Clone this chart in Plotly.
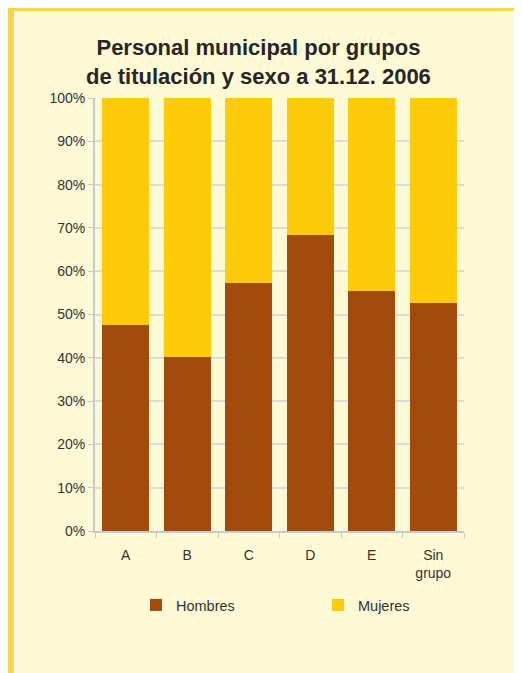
import plotly.graph_objects as go

categorias = ["A", "B", "C", "D", "E", "Sin<br>grupo"]
hombres = [47.5, 40.2, 57.2, 68.3, 55.4, 52.6]
mujeres = [52.5, 59.8, 42.8, 31.7, 44.6, 47.4]
y_ticks = [0, 10, 20, 30, 40, 50, 60, 70, 80, 90, 100]
y_ticktext = [f"{v}%" for v in y_ticks]

OFF = 8  # page body margin
W, H = 522 - OFF, 673 - OFF
# plot area in screen pixels
PL, PR, PT, PB = 95, 464, 98, 531
ML, MR, MT, MB = PL - OFF, W - (PR - OFF), PT - OFF, H - (PB - OFF)
PW, PH = PR - PL, PB - PT

def px(x):
    return (x - PL) / PW

def py(y):
    return (PB - y) / PH

fig = go.Figure()
fig.add_trace(go.Bar(name="Hombres", x=categorias, y=hombres, marker_color="#A14C0C",
                     marker_line_width=0, legend="legend"))
fig.add_trace(go.Bar(name="Mujeres", x=categorias, y=mujeres, marker_color="#FDCB0A",
                     marker_line_width=0, legend="legend2"))

XE, YE = OFF + W + 2, OFF + H + 2
shapes = [
    dict(type="rect", xref="paper", yref="paper", x0=px(6), x1=px(XE), y0=py(6), y1=py(6),
         fillcolor="#FFFFFF", line_width=0, layer="below"),
    dict(type="rect", xref="paper", yref="paper", x0=px(8), x1=px(XE), y0=py(6), y1=py(11),
         fillcolor="#FDD44C", line_width=0, layer="below"),
    dict(type="rect", xref="paper", yref="paper", x0=px(8), x1=px(14), y0=py(6), y1=py(YE),
         fillcolor="#FDD44C", line_width=0, layer="below"),
    dict(type="rect", xref="paper", yref="paper", x0=px(14), x1=px(XE), y0=py(11), y1=py(12),
         fillcolor="#FFFFFF", line_width=0, layer="below"),
    dict(type="rect", xref="paper", yref="paper", x0=px(14), x1=px(15), y0=py(11), y1=py(YE),
         fillcolor="#FFFFFF", line_width=0, layer="below"),
]

legend_font = dict(family="Liberation Sans, Arial, sans-serif", size=14.5, color="#333333")

fig.update_layout(
    width=W, height=H,
    margin=dict(l=ML, r=MR, t=MT, b=MB, pad=0),
    barmode="stack",
    bargap=0.24,
    paper_bgcolor="#FFFAD6",
    plot_bgcolor="rgba(0,0,0,0)",
    font=dict(family="Liberation Sans, Arial, sans-serif", size=14, color="#333333"),
    shapes=shapes,
    showlegend=True,
    legend=dict(x=px(136), xanchor="left", y=py(605), yanchor="middle",
                bgcolor="rgba(0,0,0,0)", font=legend_font),
    legend2=dict(x=px(318), xanchor="left", y=py(605), yanchor="middle",
                 bgcolor="rgba(0,0,0,0)", font=legend_font),
    annotations=[dict(text="Personal municipal por grupos<br>de titulación y sexo a 31.12. 2006",
                      xref="paper", yref="paper", x=px(258), y=py(33), xanchor="center",
                      yanchor="top", showarrow=False,
                      font=dict(family="Liberation Sans, Arial, sans-serif", size=22,
                                color="#262626", weight="bold"))],
)
fig.update_xaxes(showline=True, linecolor="#C8C8D0", linewidth=2, ticks="outside",
                 tickson="boundaries", ticklen=5, tickcolor="#C8C8D0", showgrid=False,
                 ticklabelstandoff=10, tickfont=dict(size=14, color="#333333"))
fig.update_yaxes(range=[0, 100], tickmode="array", tickvals=y_ticks, ticktext=y_ticktext,
                 showline=True, linecolor="#C8C8D0", linewidth=2, ticks="outside", ticklen=5,
                 tickcolor="#C8C8D0", gridcolor="#DCDCDC", gridwidth=1.5,
                 tickfont=dict(size=14, color="#333333"), zeroline=False)

fig.write_html("out.html")
